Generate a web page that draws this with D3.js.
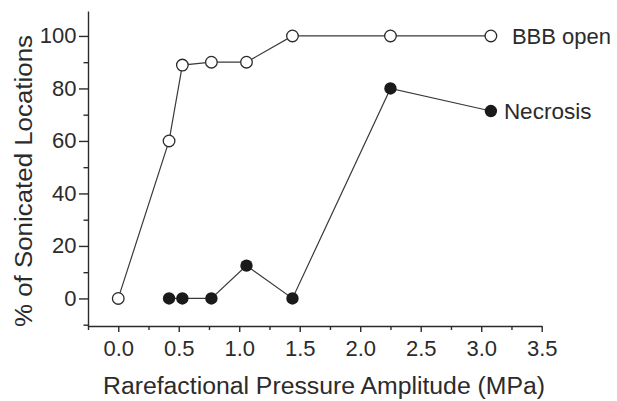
<!DOCTYPE html>
<html>
<head>
<meta charset="utf-8">
<script src="https://cdn.jsdelivr.net/npm/d3@7"></script>
<style>
  html, body { margin: 0; padding: 0; background: #fff; }
  svg { display: block; }
  text { font-family: "Liberation Sans", Arial, Helvetica, sans-serif; fill: #2b2b2b; }
</style>
</head>
<body>
<svg id="chart" width="617" height="401"></svg>
<script>
// Rarefactional pressure amplitude (MPa) for each sonication group
const bbbPressure = [0.0, 0.42, 0.53, 0.77, 1.06, 1.44, 2.25, 3.08];
const bbbPercent  = [0, 60, 88.9, 90, 90, 100, 100, 100];

const necrosisPressure = [0.42, 0.53, 0.77, 1.06, 1.44, 2.25, 3.08];
const necrosisPercent  = [0, 0, 0, 12.5, 0, 80, 71.4];

const xTicks = [0.0, 0.5, 1.0, 1.5, 2.0, 2.5, 3.0, 3.5];
const yTicks = [0, 20, 40, 60, 80, 100];
const seriesNames = ["BBB open", "Necrosis"];

const svg = d3.select("#chart");
const ink = "#2b2b2b";

const x = d3.scaleLinear().domain([-0.25, 3.5]).range([88, 541.7]);
const y = d3.scaleLinear().domain([-10.5, 109.5]).range([326, 11]);

// minor ticks (unlabelled)
const xMinor = d3.range(-0.25, 3.5001, 0.25).filter(v => Math.abs(v * 2 - Math.round(v * 2)) > 1e-6);
const yMinor = d3.range(-10, 110, 20);

const gx = svg.append("g").attr("transform", `translate(0,${y.range()[0]})`);
gx.call(d3.axisBottom(x).tickValues(xTicks).tickFormat(d3.format(".1f"))
  .tickSize(6).tickPadding(8.5).tickSizeOuter(0));
gx.append("g").call(d3.axisBottom(x).tickValues(xMinor).tickFormat("").tickSize(4).tickSizeOuter(0))
  .select(".domain").remove();

const gy = svg.append("g").attr("transform", `translate(${x.range()[0]},0)`);
gy.call(d3.axisLeft(y).tickValues(yTicks).tickFormat(d3.format("d"))
  .tickSize(9).tickPadding(2.5).tickSizeOuter(0));
gy.append("g").call(d3.axisLeft(y).tickValues(yMinor).tickFormat("").tickSize(4.5).tickSizeOuter(0))
  .select(".domain").remove();

svg.selectAll(".domain, .tick line").attr("stroke", ink).attr("stroke-width", 1.4);
svg.selectAll(".tick text").attr("fill", ink).style("font-size", "22px");

// axis titles
svg.append("text")
  .attr("x", 324)
  .attr("y", 393.5)
  .attr("text-anchor", "middle")
  .attr("textLength", 442)
  .attr("lengthAdjust", "spacingAndGlyphs")
  .style("font-size", "23.5px")
  .text("Rarefactional Pressure Amplitude (MPa)");

svg.append("text")
  .attr("transform", "translate(31.5,181) rotate(-90)")
  .attr("text-anchor", "middle")
  .attr("textLength", 292)
  .attr("lengthAdjust", "spacingAndGlyphs")
  .style("font-size", "23px")
  .text("% of Sonicated Locations");

// series
const line = d3.line().x(d => x(d[0])).y(d => y(d[1]));
const bbb = bbbPressure.map((p, i) => [p, bbbPercent[i]]);
const nec = necrosisPressure.map((p, i) => [p, necrosisPercent[i]]);

[bbb, nec].forEach(data => {
  svg.append("path").datum(data).attr("d", line)
    .attr("fill", "none").attr("stroke", "#3a3a3a").attr("stroke-width", 1.2);
});

svg.append("g").selectAll("circle").data(bbb).join("circle")
  .attr("cx", d => x(d[0])).attr("cy", d => y(d[1])).attr("r", 5.8)
  .attr("fill", "#fff").attr("stroke", "#2b2b2b").attr("stroke-width", 1.3);

svg.append("g").selectAll("circle").data(nec).join("circle")
  .attr("cx", d => x(d[0])).attr("cy", d => y(d[1])).attr("r", 6.2)
  .attr("fill", "#1a1a1a");

// series labels beside the last point
const lastB = bbb[bbb.length - 1], lastN = nec[nec.length - 1];
svg.append("text").attr("x", x(lastB[0]) + 21).attr("y", y(lastB[1]) + 8.5)
  .style("font-size", "22px").text(seriesNames[0]);
svg.append("text").attr("x", x(lastN[0]) + 13).attr("y", y(lastN[1]) + 7.5)
  .style("font-size", "22.5px").text(seriesNames[1]);
</script>
</body>
</html>
